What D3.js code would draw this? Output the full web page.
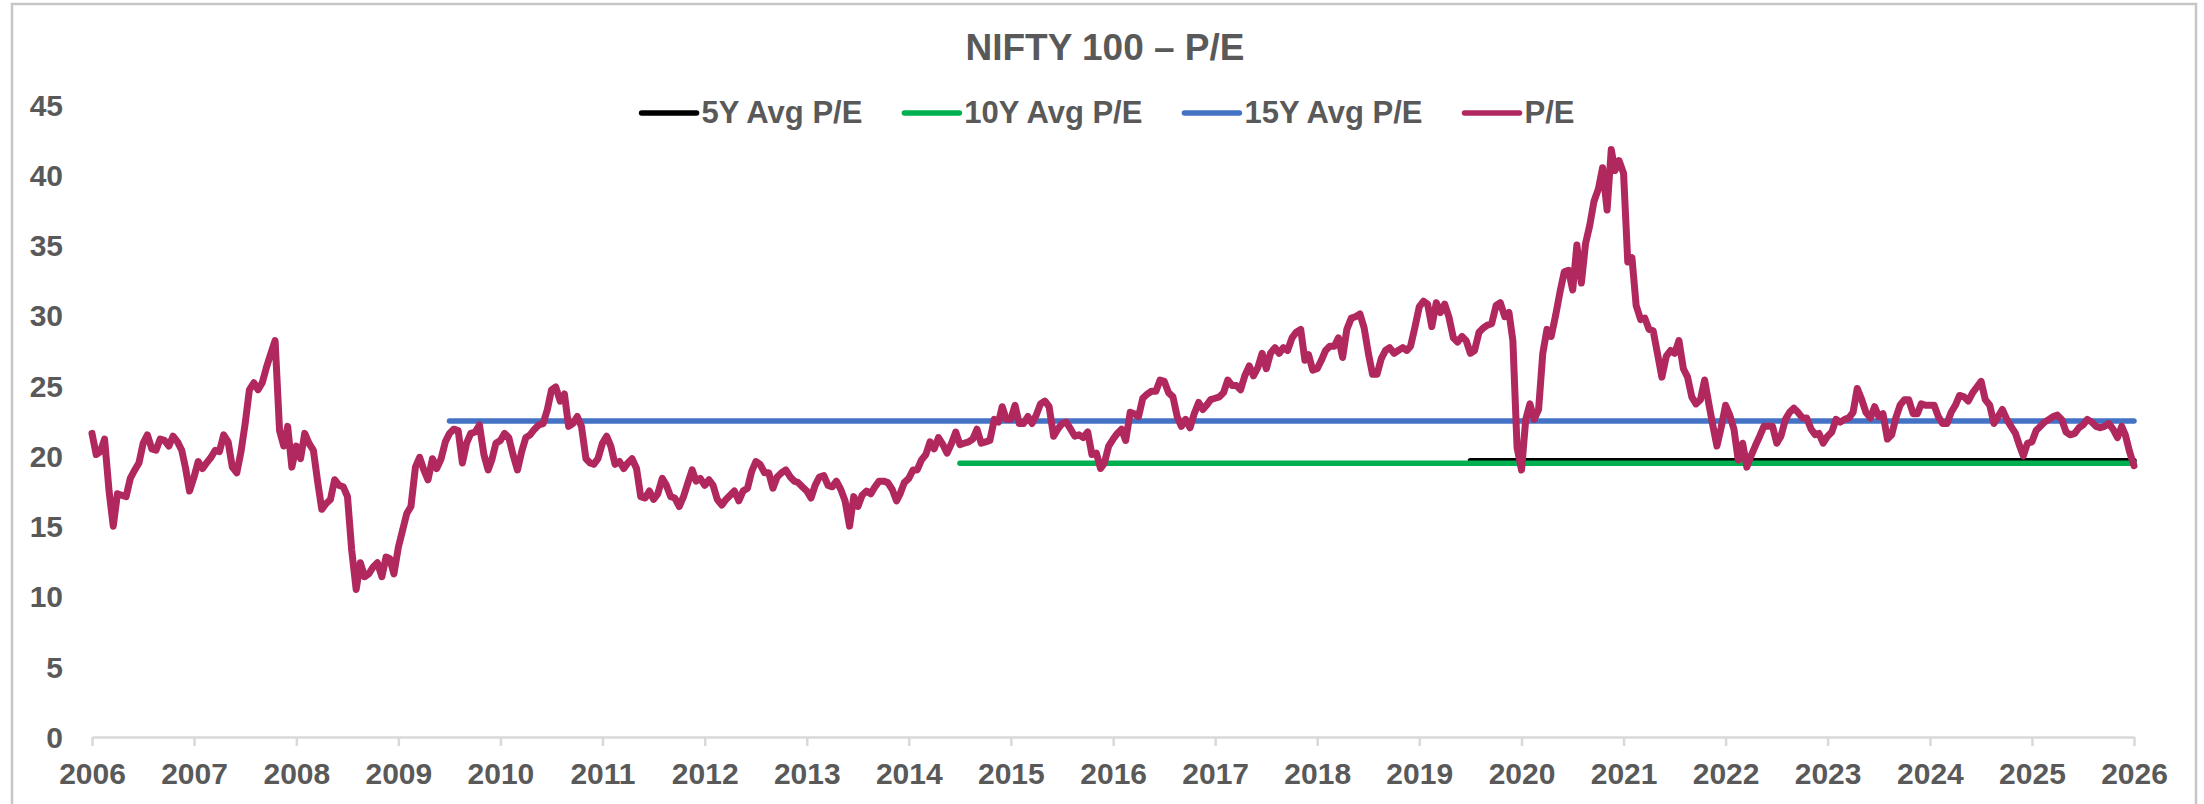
<!DOCTYPE html>
<html><head><meta charset="utf-8">
<script src="https://cdn.jsdelivr.net/npm/d3@7"></script>
<style>
html,body{margin:0;padding:0;background:#fff;}
svg{display:block;}
text{font-family:"Liberation Sans",Arial,sans-serif;font-weight:bold;fill:#595959;}
</style></head><body>
<svg id="chart" width="2204" height="804"></svg>
<script>
const chartTitle = "NIFTY 100 – P/E";
const seriesNames = ["5Y Avg P/E", "10Y Avg P/E", "15Y Avg P/E", "P/E"];
const seriesColors = ["#000000", "#00B050", "#4472C4", "#B0285E"];
const yTicks = [0, 5, 10, 15, 20, 25, 30, 35, 40, 45];
const xTickYears = [2006,2007,2008,2009,2010,2011,2012,2013,2014,2015,2016,2017,2018,2019,2020,2021,2022,2023,2024,2025,2026];

// Average lines: value, start date, end date
const avgValues = [19.65, 19.47, 22.48];
const avgStarts = ["2019-10-01", "2014-10-01", "2009-10-01"];
const avgEnd = "2026-04-01";

// P/E, twice a month (1st & 16th), each block runs April..March
const pe2006 = [21.6,20.1,20.3,21.2,17.5,15.0,17.3,17.2,17.1,18.4,19.0,19.5,20.9,21.5,20.5,20.4,21.2,21.1,20.7,21.4,21.0,20.4,19.2,17.5];
const pe2007 = [18.5,19.6,19.1,19.5,19.9,20.4,20.3,21.5,21.0,19.2,18.8,20.3,22.3,24.7,25.2,24.7,25.2,26.3,27.3,28.2,21.8,20.7,22.1,19.2];
const pe2008 = [20.7,19.8,21.6,20.9,20.4,18.2,16.2,16.6,16.9,18.3,17.9,17.8,17.1,13.3,10.5,12.4,11.4,11.6,12.1,12.4,11.4,12.8,12.7,11.6];
const pe2009 = [13.5,14.7,15.9,16.4,19.2,19.9,19.0,18.3,19.8,19.1,19.8,21.0,21.6,21.9,21.8,19.5,20.9,21.6,21.7,22.2,20.1,19.0,19.7,20.9];
const pe2010 = [21.1,21.6,21.3,20.1,19.0,20.3,21.3,21.5,21.9,22.2,22.3,23.3,24.7,24.9,23.9,24.4,22.1,22.3,22.8,22.1,19.8,19.5,19.4,19.8];
const pe2011 = [20.9,21.4,20.7,19.4,19.6,19.1,19.5,19.8,19.1,17.1,17.0,17.5,16.9,17.3,18.4,17.9,17.1,17.0,16.4,17.1,18.1,19.0,18.2,18.4];
const pe2012 = [17.9,18.3,17.9,16.9,16.5,16.9,17.2,17.5,16.8,17.5,17.7,18.9,19.6,19.4,18.8,18.8,17.7,18.5,18.8,19.0,18.5,18.2,18.1,17.8];
const pe2013 = [17.5,17.0,17.9,18.5,18.6,17.9,17.8,18.2,17.6,16.8,15.0,17.1,16.4,17.2,17.5,17.3,17.8,18.2,18.2,18.1,17.6,16.8,17.3,18.1];
const pe2014 = [18.4,19.0,19.0,19.7,20.1,21.0,20.5,21.3,20.8,20.2,20.9,21.7,20.8,20.9,21.0,21.2,21.9,20.9,21.0,21.1,22.6,22.4,23.5,22.6];
const pe2015 = [22.6,23.6,22.3,22.3,22.8,22.3,22.9,23.7,23.9,23.5,21.4,21.9,22.3,22.4,21.9,21.4,21.5,21.3,21.7,20.1,20.2,19.1,19.5,20.7];
const pe2016 = [21.2,21.6,21.9,21.1,23.1,23.0,22.8,24.1,24.4,24.6,24.6,25.4,25.3,24.5,24.2,22.8,22.1,22.6,22.0,23.0,23.8,23.3,23.6,24.0];
const pe2017 = [24.1,24.2,24.5,25.4,25.0,25.0,24.7,25.7,26.4,25.7,26.3,27.3,26.2,27.3,27.7,27.3,27.7,27.5,28.4,28.8,29.0,26.8,27.2,26.1];
const pe2018 = [26.2,26.8,27.5,27.8,27.8,28.4,27.0,29.0,29.8,29.9,30.1,29.1,27.3,25.8,25.8,26.9,27.5,27.7,27.3,27.5,27.7,27.5,27.8,29.1];
const pe2019 = [30.6,31.0,30.8,29.2,30.9,30.2,30.8,29.9,28.4,28.1,28.5,28.2,27.3,27.5,28.8,29.1,29.3,29.4,30.7,30.9,29.9,30.2,28.2,20.6];
const pe2020 = [19.0,22.6,23.7,22.6,23.3,27.3,29.0,28.5,30.0,31.6,33.1,33.2,31.8,35.0,32.3,35.1,36.4,38.1,39.0,40.5,37.5,41.8,40.3,41.0];
const pe2021 = [40.1,33.8,34.1,30.7,29.7,29.8,29.0,28.9,27.2,25.6,27.1,27.5,27.3,28.2,26.2,25.6,24.2,23.7,24.0,25.4,23.6,22.0,20.7,22.0];
const pe2022 = [23.6,22.9,21.9,19.7,20.9,19.2,20.0,20.7,21.4,22.1,22.1,22.1,20.9,21.4,22.6,23.1,23.4,23.1,22.7,22.7,21.9,21.5,21.6,20.9];
const pe2023 = [21.4,21.7,22.6,22.4,22.6,22.7,23.1,24.8,24.0,23.1,22.7,23.5,22.8,23.0,21.2,21.5,22.7,23.6,24.0,24.0,23.0,23.0,23.7,23.6];
const pe2024 = [23.6,23.6,22.8,22.3,22.3,23.1,23.6,24.3,24.2,23.9,24.5,24.9,25.3,24.0,23.6,22.3,22.8,23.3,22.6,22.1,21.6,20.7,20.0,20.9];
const pe2025 = [21.0,21.8,22.1,22.4,22.6,22.8,22.9,22.6,21.7,21.5,21.6,22.0,22.2,22.6,22.4,22.1,22.0,22.1,22.3,21.9,21.3,22.1,21.5,20.3];
const pe2026 = [19.3];

const peBlocks = [pe2006,pe2007,pe2008,pe2009,pe2010,pe2011,pe2012,pe2013,pe2014,pe2015,pe2016,pe2017,pe2018,pe2019,pe2020,pe2021,pe2022,pe2023,pe2024,pe2025,pe2026];
const blockYears = [2006,2007,2008,2009,2010,2011,2012,2013,2014,2015,2016,2017,2018,2019,2020,2021,2022,2023,2024,2025,2026];

const peData = [];
peBlocks.forEach((arr, b) => {
  arr.forEach((v, i) => {
    peData.push({date: new Date(blockYears[b], 3 + Math.floor(i / 2), i % 2 ? 16 : 1), v: v});
  });
});

const svg = d3.select("#chart");
const parse = d3.timeParse("%Y-%m-%d");

// outer border
svg.append("rect").attr("x", 12).attr("y", 4).attr("width", 2184).attr("height", 900)
  .attr("fill", "#fff").attr("stroke", "#c6c6c6").attr("stroke-width", 2.5);

const x = d3.scaleTime()
  .domain([new Date(2006, 3, 1), new Date(2026, 3, 1)])
  .range([92, 2134]);
const y = d3.scaleLinear().domain([0, 45]).range([737, 104.5]);

// title
svg.append("text").attr("x", 1105).attr("y", 60).attr("text-anchor", "middle")
  .style("font-size", "37px").text(chartTitle);

// y axis labels (no axis line)
const yAxis = d3.axisLeft(y).tickValues(yTicks).tickSize(0).tickPadding(0);
const gy = svg.append("g").attr("transform", "translate(63,0)").call(yAxis);
gy.select(".domain").remove();
gy.selectAll("text").style("font-size", "30px").style("font-family", null)
  .attr("fill", "#595959").attr("dy", "0.35em");

// x axis
const xTickDates = xTickYears.map(yr => new Date(yr, 3, 1));
const xAxis = d3.axisBottom(x).tickValues(xTickDates).tickSize(9).tickSizeOuter(0)
  .tickFormat(d3.timeFormat("%Y")).tickPadding(17);
const gx = svg.append("g").attr("transform", "translate(0,737)").call(xAxis);
gx.select(".domain").attr("stroke", "#d9d9d9").attr("stroke-width", 2.5);
gx.selectAll(".tick line").attr("stroke", "#d9d9d9").attr("stroke-width", 2.5);
gx.selectAll("text").style("font-size", "30px").style("font-family", null)
  .attr("fill", "#595959").attr("dy", "0.71em");

// average lines
const lineGen = d3.line().x(d => x(d.date)).y(d => y(d.v));
avgValues.forEach((v, i) => {
  const pts = [{date: parse(avgStarts[i]), v: v}, {date: parse(avgEnd), v: v}];
  svg.append("path").datum(pts).attr("d", lineGen)
    .attr("fill", "none").attr("stroke", seriesColors[i])
    .attr("stroke-width", 5.5).attr("stroke-linecap", "round");
});

// P/E line
svg.append("path").datum(peData).attr("d", lineGen)
  .attr("fill", "none").attr("stroke", seriesColors[3])
  .attr("stroke-width", 7).attr("stroke-linejoin", "round").attr("stroke-linecap", "round");

// legend
const legend = svg.append("g");
const items = seriesNames.map((name, i) => {
  const g = legend.append("g");
  g.append("line").attr("x1", 0).attr("x2", 55).attr("y1", 113).attr("y2", 113)
    .attr("stroke", seriesColors[i]).attr("stroke-width", 5.5).attr("stroke-linecap", "round");
  const t = g.append("text").attr("x", 60).attr("y", 123).style("font-size", "31px").text(name);
  return {g: g, w: 60 + t.node().getComputedTextLength()};
});
const gap = 42;
const totalW = d3.sum(items, d => d.w) + gap * (items.length - 1);
let cx = 1108 - totalW / 2;
items.forEach(it => { it.g.attr("transform", `translate(${cx},0)`); cx += it.w + gap; });
</script>
</body></html>
